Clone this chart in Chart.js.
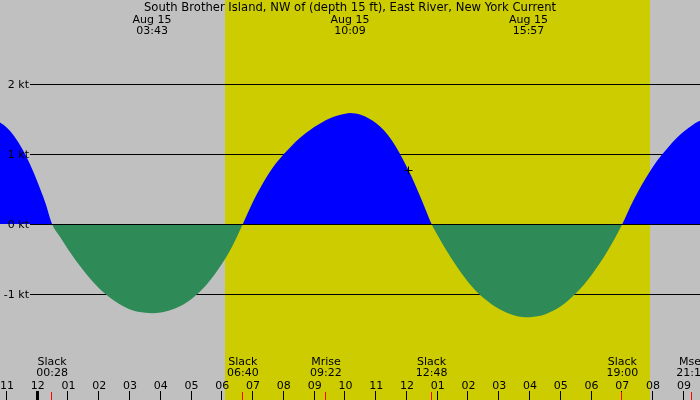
<!DOCTYPE html>
<html>
<head>
<meta charset="utf-8">
<script src="https://cdn.jsdelivr.net/npm/chart.js@4/dist/chart.umd.min.js"></script>
<style>
html,body{margin:0;padding:0;background:#c0c0c0;}
#wrap{width:700px;height:400px;}
</style>
</head>
<body>
<div id="wrap"><canvas id="c" width="700" height="400"></canvas></div>
<script>
// ---- data (hours since midnight Aug 15, current in knots) ----
const hours = [-2.5, -2.0, -1.75, -1.5, -1.225, -1.0, -0.75, -0.5, -0.25, 0.0, 0.25, 0.467,
  0.75, 1.0, 1.5, 2.0, 2.5, 3.0, 3.5, 3.717,
  4.0, 4.5, 5.0, 5.5, 6.0, 6.333, 6.667,
  7.0, 7.25, 7.5, 7.75, 8.0, 8.25, 8.5, 8.75, 9.0, 9.25, 9.5, 9.75, 10.0, 10.15,
  10.5, 10.75, 11.0, 11.25, 11.5, 11.75, 12.0, 12.25, 12.5, 12.8,
  13.0, 13.25, 13.5, 13.75, 14.0, 14.25, 14.5, 14.75, 15.0, 15.25, 15.5, 15.75, 15.94,
  16.0, 16.25, 16.5, 16.75, 17.0, 17.25, 17.5, 17.75, 18.0, 18.25, 18.5, 18.75, 19.0,
  19.25, 19.5, 19.75, 20.0, 20.25, 20.5, 20.75, 21.0, 21.25, 21.5, 21.75, 22.0];
const knots = [1.50, 1.525, 1.52, 1.50, 1.45, 1.375, 1.247, 1.073, 0.853, 0.592, 0.299, 0,
  -0.2, -0.37, -0.67, -0.92, -1.1, -1.22, -1.268, -1.275,
  -1.265, -1.2, -1.07, -0.86, -0.56, -0.31, 0,
  0.32, 0.53, 0.715, 0.87, 1.0, 1.115, 1.22, 1.31, 1.39, 1.455, 1.51, 1.55, 1.576, 1.586,
  1.56, 1.51, 1.44, 1.34, 1.20, 1.02, 0.81, 0.58, 0.32, 0,
  -0.165, -0.355, -0.53, -0.69, -0.835, -0.96, -1.062, -1.145, -1.215, -1.268, -1.306, -1.328, -1.333,
  -1.332, -1.319, -1.288, -1.239, -1.173, -1.088, -0.987, -0.867, -0.729, -0.573, -0.40, -0.209, 0,
  0.24, 0.455, 0.645, 0.82, 0.97, 1.1, 1.22, 1.32, 1.405, 1.47, 1.515, 1.545];

const title = "South Brother Island, NW of (depth 15 ft), East River, New York Current";
const peakHours = [3.717, 10.15, 15.95];
const peakDates = ["Aug 15", "Aug 15", "Aug 15"];
const peakTimes = ["03:43", "10:09", "15:57"];

const eventHours = [0.467, 6.667, 9.367, 12.8, 19.0, 21.27];
const eventNames = ["Slack", "Slack", "Mrise", "Slack", "Slack", "Mset"];
const eventTimes = ["00:28", "06:40", "09:22", "12:48", "19:00", "21:16"];

const tickHours = [-1,0,1,2,3,4,5,6,7,8,9,10,11,12,13,14,15,16,17,18,19,20,21];
const tickLabels = ["11","12","01","02","03","04","05","06","07","08","09","10","11","12","01","02","03","04","05","06","07","08","09"];

const ktLevels = [2, 1, 0, -1];
const ktLabels = ["2 kt", "1 kt", "0 kt", "-1 kt"];

const daylight = [6.09, 19.9];   // sunrise, sunset
const nowMark = [12.04, 0.77];   // current time marker

const FONT = '11px "DejaVu Sans"';
const TITLE_FONT = '11.6px "DejaVu Sans"';

const bgPlugin = {
  id: 'bg',
  beforeDraw(chart) {
    const {ctx, chartArea: a, scales: {x, y}} = chart;
    ctx.save();
    ctx.fillStyle = '#c0c0c0';
    ctx.fillRect(0, 0, chart.width, chart.height);
    const x1 = x.getPixelForValue(daylight[0]);
    const x2 = x.getPixelForValue(daylight[1]);
    ctx.fillStyle = '#cccc00';
    ctx.fillRect(Math.round(x1), 0, Math.round(x2 - x1), chart.height);
    ctx.strokeStyle = '#000';
    ctx.lineWidth = 1;
    ktLevels.forEach(v => {
      const py = Math.round(y.getPixelForValue(v)) + 0.5;
      ctx.beginPath(); ctx.moveTo(30, py); ctx.lineTo(a.right, py); ctx.stroke();
    });
    ctx.restore();
  },
  afterDatasetsDraw(chart) {
    const {ctx, chartArea: a, scales: {x, y}} = chart;
    ctx.save();
    ctx.strokeStyle = '#000';
    ctx.lineWidth = 1;
    const py0 = Math.round(y.getPixelForValue(0)) + 0.5;
    ctx.beginPath(); ctx.moveTo(30, py0); ctx.lineTo(a.right, py0); ctx.stroke();
    ctx.font = FONT;
    ctx.fillStyle = '#000';
    ctx.textAlign = 'right';
    ctx.textBaseline = 'middle';
    ktLevels.forEach((v, i) => {
      ctx.fillText(ktLabels[i], 29, y.getPixelForValue(v) + 1);
    });
    ctx.textAlign = 'center';
    ctx.font = TITLE_FONT;
    ctx.fillText(title, 350, 8);
    ctx.font = FONT;
    peakHours.forEach((h, i) => {
      const px = x.getPixelForValue(h);
      ctx.fillText(peakDates[i], px, 20);
      ctx.fillText(peakTimes[i], px, 31);
    });
    eventHours.forEach((h, i) => {
      const px = x.getPixelForValue(h);
      ctx.fillText(eventNames[i], px, 362);
      ctx.fillText(eventTimes[i], px, 373);
    });
    tickHours.forEach((h, i) => {
      const px = x.getPixelForValue(h);
      ctx.fillStyle = '#000';
      ctx.fillText(tickLabels[i], px, 386);
      if (h === 0) {
        ctx.fillRect(Math.round(px) - 2, 391, 3, 9);
      } else {
        ctx.fillRect(Math.round(px) - 1, 391, 1, 9);
      }
    });
    ctx.fillStyle = '#ff0000';
    eventHours.forEach(h => {
      const px = x.getPixelForValue(h);
      ctx.fillRect(Math.round(px) - 1, 392, 1, 8);
    });
    const mx = Math.round(x.getPixelForValue(nowMark[0])) + 0.5;
    const my = Math.round(y.getPixelForValue(nowMark[1])) + 0.5;
    ctx.strokeStyle = '#000';
    ctx.beginPath();
    ctx.moveTo(mx - 4, my); ctx.lineTo(mx + 4, my);
    ctx.moveTo(mx, my - 4); ctx.lineTo(mx, my + 4);
    ctx.stroke();
    ctx.restore();
  }
};

new Chart(document.getElementById('c'), {
  type: 'line',
  data: {
    datasets: [{
      data: hours.map((h, i) => ({x: h, y: knots[i]})),
      borderWidth: 0,
      borderColor: 'rgba(0,0,0,0)',
      pointRadius: 0,
      cubicInterpolationMode: 'monotone',
      fill: {target: 'origin', above: '#0000ff', below: '#2e8b57'}
    }]
  },
  options: {
    responsive: false,
    animation: false,
    layout: {padding: 0},
    plugins: {legend: {display: false}, tooltip: {enabled: false}, title: {display: false}},
    scales: {
      x: {type: 'linear', display: false, min: -1.2252, max: 21.524},
      y: {type: 'linear', display: false, min: -2.514, max: 3.2}
    }
  },
  plugins: [bgPlugin]
});
</script>
</body>
</html>
